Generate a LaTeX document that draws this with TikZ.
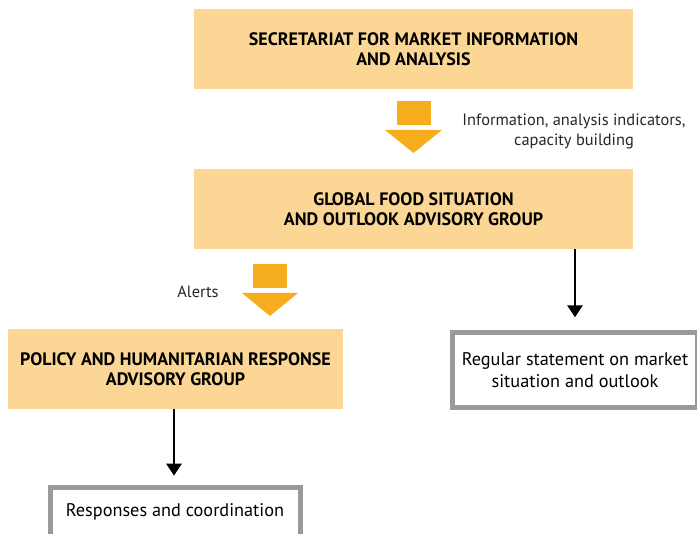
\documentclass[tikz,border=0pt]{standalone}
\usepackage{fontspec}
\setmainfont{PT Sans}
\usetikzlibrary{arrows.meta}
\definecolor{boxfill}{HTML}{FCD694}
\definecolor{arrowfill}{HTML}{F6AE1E}
\definecolor{greyline}{HTML}{9A9A9A}
\begin{document}
\begin{tikzpicture}[x=0.75pt,y=-0.75pt,
  orangebox/.style={fill=boxfill, draw=none, inner sep=0pt, align=center,
    font=\fontsize{13.5}{15}\selectfont\bfseries},
  greybox/.style={draw=greyline, line width=3.75pt, fill=white, inner sep=0pt, align=center,
    font=\fontsize{13.7}{16.5}\selectfont},
  lbl/.style={align=center, inner sep=0pt, text=black!85, font=\fontsize{12.3}{15}\selectfont},
  conn/.style={line width=2.2pt, -{Triangle[width=11.25pt,length=9pt]}},
  blockarrow/.style={fill=arrowfill, draw=none}
]
\useasboundingbox (0,0) rectangle (697,534);
\clip (0,0) rectangle (697,534);

\node[orangebox, minimum width=329.25pt, minimum height=60pt] (smia) at (413.5,49)
  {SECRETARIAT FOR MARKET INFORMATION\\AND ANALYSIS};
\node[orangebox, minimum width=329.25pt, minimum height=60pt] (gfso) at (413.5,209)
  {GLOBAL FOOD SITUATION\\AND OUTLOOK ADVISORY GROUP};
\node[orangebox, minimum width=251.25pt, minimum height=60pt] (phr) at (175.5,369)
  {POLICY AND HUMANITARIAN RESPONSE\\ADVISORY GROUP};
\node[greybox, minimum width=183.75pt, minimum height=56.25pt] (stmt) at (575,370)
  {Regular statement on market\\situation and outlook};
\node[greybox, minimum width=187.5pt, minimum height=36.75pt] (resp) at (175,512)
  {Responses and coordination};

% block arrows
\fill[blockarrow] (397,101) rectangle (431,125);
\fill[blockarrow] (385,130) -- (442,130) -- (413.5,153) -- cycle;
\fill[blockarrow] (253,264) rectangle (287,288);
\fill[blockarrow] (242,293) -- (298,293) -- (270,316) -- cycle;

\node[lbl] (info) at (574,131) {Information, analysis indicators,\\capacity building};
\node[lbl] (alerts) at (198,292) {Alerts};

\draw[conn, shorten >=9.5pt] (gfso.south -| stmt.north) -- (stmt.north);
\draw[conn, shorten >=7pt] (phr.south -| 174,0) -- (resp.north -| 174,0);
\end{tikzpicture}
\end{document}
